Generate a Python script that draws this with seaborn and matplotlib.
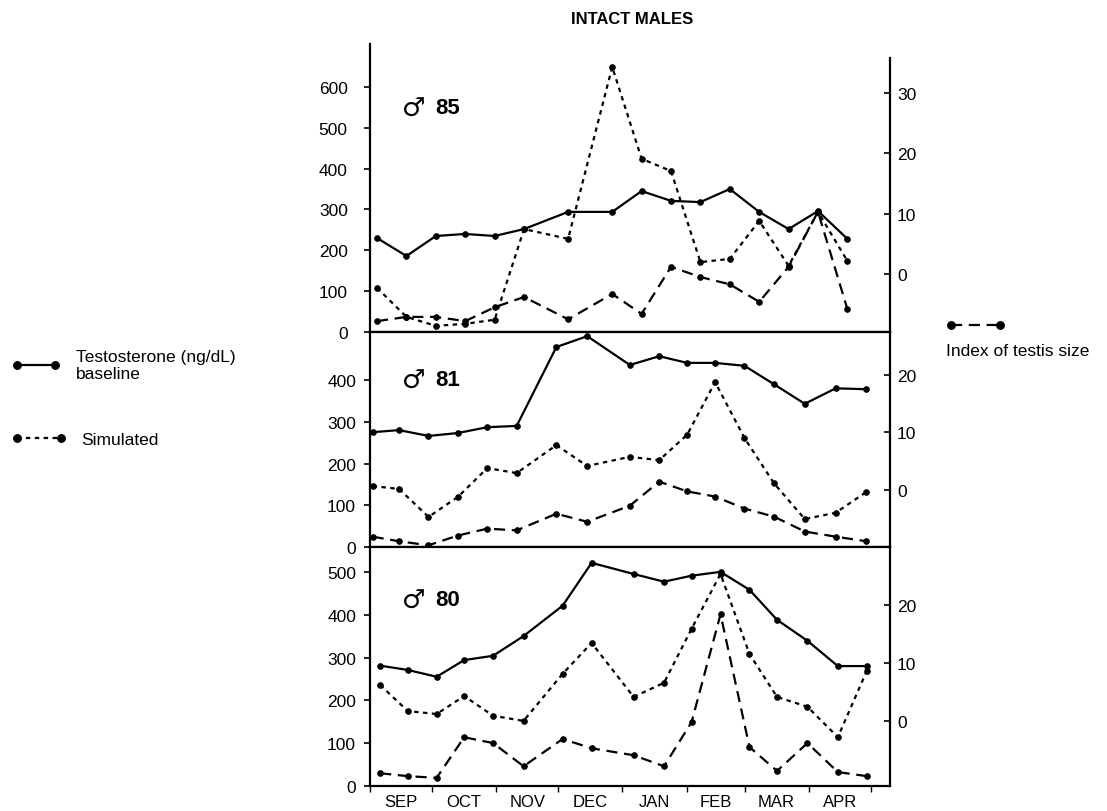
import matplotlib
matplotlib.use("Agg")
import matplotlib.pyplot as plt
import seaborn as sns
import numpy as np

# ===================== DATOS =====================
# tiempo de muestreo en semanas desde el 1 de septiembre
weeks_85 = [1, 3, 5, 7, 9, 11, 14, 17, 19, 21, 23, 25, 27, 29, 31, 33]
weeks_81 = [0.7, 2.5, 4.5, 6.5, 8.5, 10.5, 13.2, 15.3, 18.2, 20.2, 22.1, 24.0, 26.0, 28.0, 30.1, 32.2, 34.3]
weeks_80 = [0.7, 2.6, 4.6, 6.5, 8.5, 10.6, 13.3, 15.3, 18.2, 20.3, 22.2, 24.2, 26.2, 28.1, 30.2, 32.3, 34.3]

# macho 85
base_85 = [230, 186, 235, 240, 235, 252, 294, 294, 345, 321, 318, 350, 294, 252, 296, 228]
sim_85 = [108, 37, 15, 20, 30, 252, 228, 649, 424, 394, 171, 179, 272, 162, 294, 174]
idx_85 = [-7.8, -7.1, -7.1, -7.8, -5.5, -3.8, -7.5, -3.3, -6.6, 1.2, -0.5, -1.7, -4.6, 1.2, 10.3, -5.8]

# macho 81
base_81 = [275, 280, 266, 273, 287, 290, 479, 505, 436, 457, 441, 441, 434, 390, 343, 380, 378]
sim_81 = [146, 139, 72, 120, 189, 177, 244, 194, 216, 208, 269, 395, 261, 153, 67, 82, 132]
idx_81 = [-8.2, -9.0, -9.7, -8.0, -6.8, -7.1, -4.2, -5.6, -2.8, 1.4, -0.3, -1.2, -3.3, -4.7, -7.3, -8.2, -9.0]

# macho 80
base_80 = [281, 271, 255, 294, 304, 350, 421, 521, 495, 477, 491, 500, 458, 388, 339, 280, 280]
sim_80 = [236, 175, 168, 210, 164, 152, 262, 334, 208, 241, 367, 495, 308, 208, 185, 114, 269]
idx_80 = [-9.0, -9.5, -9.8, -2.8, -3.8, -7.8, -3.1, -4.7, -5.9, -7.8, -0.2, 18.4, -4.5, -8.6, -3.8, -8.8, -9.5]

months = ["SEP", "OCT", "NOV", "DEC", "JAN", "FEB", "MAR", "APR"]
month_start_days = [0, 30, 61, 91, 122, 153, 181, 212, 242]

# ===================== ESTILO =====================
sns.set_style("ticks", {"axes.edgecolor": "black", "xtick.color": "black",
                        "ytick.color": "black", "text.color": "black"})
plt.rcParams["font.family"] = ["Liberation Sans", "DejaVu Sans"]

W, H = 1107, 812
fig = plt.figure(figsize=(W / 100, H / 100), dpi=100)

X0, X1 = 370, 890
XLIM = (0.52, 35.9)


def rect(top, bottom):
    return [X0 / W, 1 - bottom / H, (X1 - X0) / W, (bottom - top) / H]


def panel(r, weeks, base, sim, idx, llim, lticks, rlim, rticks, tag, lpad):
    ax = fig.add_axes(r)
    ax2 = ax.twinx()
    sns.lineplot(x=weeks, y=base, ax=ax, color="k", linewidth=1.6,
                 marker="o", markersize=4, markeredgecolor="k")
    sns.lineplot(x=weeks, y=sim, ax=ax, color="k", linewidth=1.6,
                 linestyle=(0, (2, 2)), marker="o", markersize=4, markeredgecolor="k")
    sns.lineplot(x=weeks, y=idx, ax=ax2, color="k", linewidth=1.6,
                 linestyle=(0, (5, 3)), marker="o", markersize=4, markeredgecolor="k")
    ax.set_xlim(*XLIM)
    ax.set_ylim(*llim)
    ax2.set_ylim(*rlim)
    ax.set_yticks(lticks)
    ax2.set_yticks(rticks)
    ax.tick_params(axis="y", direction="out", length=4, width=1.2, labelsize=12.5, pad=lpad)
    ax2.tick_params(axis="y", direction="in", length=4, width=1.2, labelsize=12.5, pad=5)
    ax.set_xticks([])
    ax.spines["right"].set_visible(False)
    for s in ["left", "top", "bottom"]:
        ax2.spines[s].set_visible(False)
    for s in ax.spines.values():
        s.set_linewidth(1.6)
    ax2.spines["right"].set_linewidth(1.6)
    # etiqueta del animal: símbolo macho + número
    ax.text(0.062, 0.775, "\u2642", transform=ax.transAxes, fontsize=19,
            family="DejaVu Sans", fontweight="bold", va="center", ha="left")
    ax.text(0.125, 0.78, tag, transform=ax.transAxes, fontsize=16,
            fontweight="bold", va="center", ha="left")
    return ax, ax2


ax_a, ax_a2 = panel(rect(45, 333), weeks_85, base_85, sim_85, idx_85,
                    (0, 705), range(0, 700, 100), (-9.6, 38.1), [0, 10, 20, 30],
                    "85", 12)
ax_a.spines["top"].set_visible(False)
ax_a2.spines["top"].set_visible(False)
ax_a2.spines["right"].set_bounds(-9.6, 35.7)

ax_b, ax_b2 = panel(rect(333, 548), weeks_81, base_81, sim_81, idx_81,
                    (0, 515), range(0, 500, 100), (-10, 27.5), [0, 10, 20],
                    "81", 6)

ax_c, ax_c2 = panel(rect(548, 787), weeks_80, base_80, sim_80, idx_80,
                    (0, 558), range(0, 600, 100), (-11.2, 30), [0, 10, 20],
                    "80", 6)

# eje de meses
starts = np.array(month_start_days) / 7
mids = (starts[:-1] + starts[1:]) / 2
ax_c.set_xticks(mids)
ax_c.set_xticklabels(months)
ax_c.set_xticks(starts, minor=True)
ax_c.tick_params(axis="x", which="major", length=0, labelsize=12, pad=6)
ax_c.tick_params(axis="x", which="minor", direction="out", length=4, width=1)

fig.text(632 / W, 1 - 20 / H, "INTACT MALES", ha="center", va="center",
         fontsize=12, fontweight="bold")

# leyendas
h_base = ax_a.lines[0]
h_sim = ax_a.lines[1]
h_idx = ax_a2.lines[0]
leg_kw = dict(loc="center left", frameon=False, fontsize=12.5, numpoints=2,
              markerscale=1.4, borderpad=0, borderaxespad=0)
fig.legend([h_base], ["Testosterone (ng/dL)\nbaseline"],
           bbox_to_anchor=(12 / W, 1 - 366 / H),
           handlelength=2.8, handletextpad=0.9, **leg_kw)
fig.legend([h_sim], ["Simulated"], bbox_to_anchor=(12 / W, 1 - 440 / H),
           handlelength=3.1, handletextpad=0.9, **leg_kw)
fig.legend([h_idx], [""], bbox_to_anchor=(946 / W, 1 - 327 / H),
           handlelength=3.4, handletextpad=0, **leg_kw)
fig.text(946 / W, 1 - 352 / H, "Index of testis size", ha="left", va="center",
         fontsize=12.5)

fig.savefig("out.png", dpi=100)
